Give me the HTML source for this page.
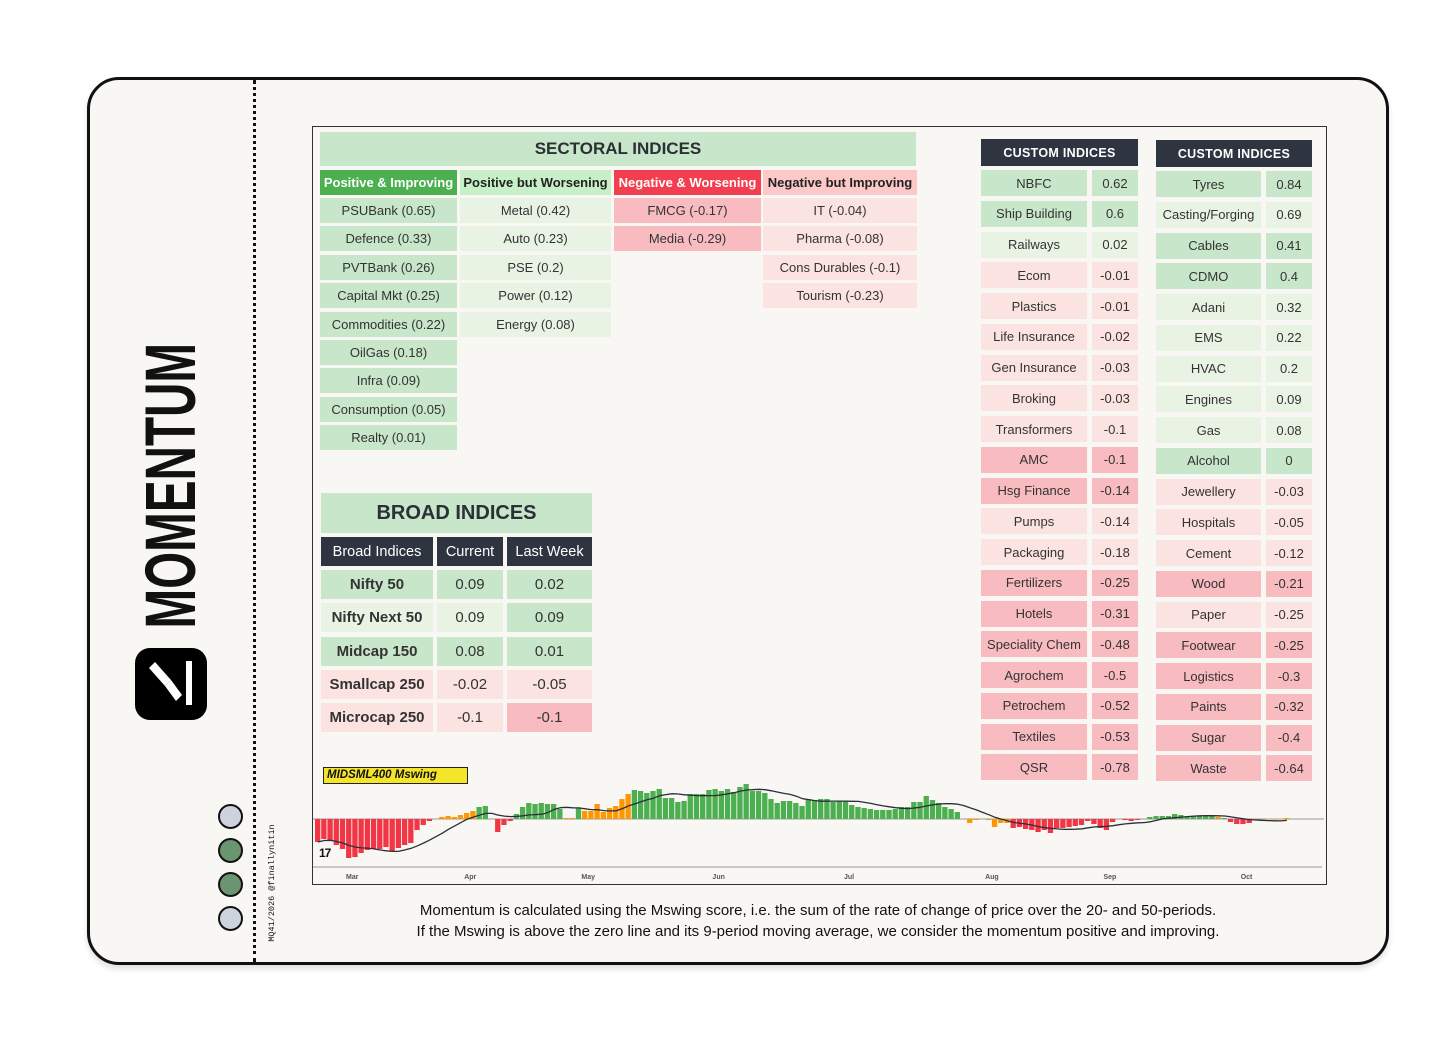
<!DOCTYPE html>
<html><head><meta charset="utf-8">
<style>
*{box-sizing:border-box;margin:0;padding:0}
body{width:1456px;height:1040px;background:#fff;position:relative;overflow:hidden;font-family:"Liberation Sans",sans-serif;color:#2b2f36}
.abs{position:absolute}
.cell{position:absolute;display:flex;align-items:center;justify-content:center;font-size:13px;color:#333;white-space:nowrap}
.S{background:#c8e6c9}.L{background:#e8f3e4}.PS{background:#f8bcc0}.PL{background:#fbe3e1}
.dark{background:#2e3440;color:#fff}
</style></head>
<body>
<div class="abs" style="left:87px;top:77px;width:1302px;height:888px;border:3px solid #111;border-radius:32px;background:#f9f7f3;box-shadow:0 4px 6px rgba(0,0,0,.12)"></div>
<div class="abs" style="left:253px;top:80px;height:882px;border-left:3px dotted #111"></div>

<div class="abs" style="left:-24px;top:466px;width:390px;height:52px;line-height:52px;text-align:center;font-weight:bold;font-size:68px;color:#111;transform:rotate(-90deg) scale(0.7,1.05)">MOMENTUM</div>

<svg class="abs" style="left:135px;top:648px" width="72" height="72" viewBox="0 0 72 72">
<rect width="72" height="72" rx="15" fill="#000"/>
<polygon points="14,20 20,14 36,32 30,38" fill="#fff"/>
<polygon points="30,38 36,32 47,47 41,53" fill="#fff"/>
<rect x="51" y="13" width="6" height="44" fill="#fff"/>
</svg>

<div id="dots"></div>
<div class="abs" style="left:213px;top:877px;width:120px;height:12px;font-family:'Liberation Mono',monospace;font-size:8.5px;color:#111;transform:rotate(-90deg);white-space:nowrap;text-align:center">MQ41/2026 @finallynitin</div>

<div class="abs" style="left:312px;top:126px;width:1015px;height:759px;border:1.5px solid #333;background:#f9f7f3"></div>

<div class="cell" style="left:320px;top:132px;width:596px;height:34px;background:#c8e6c9;font-size:17px;font-weight:bold;color:#2b2f36">SECTORAL INDICES</div>
<div id="sect"></div>

<div class="cell" style="left:321px;top:493px;width:271px;height:40px;background:#c8e6c9;font-size:20px;font-weight:bold;color:#2b2f36">BROAD INDICES</div>
<div id="broad"></div>
<div id="custom"></div>

<svg id="chart" class="abs" style="left:0;top:0" width="1456" height="1040"></svg>
<div class="abs" style="left:323px;top:767px;width:145px;height:17px;background:#f5e52a;border:1px solid #222;font-size:11.5px;font-weight:bold;font-style:italic;line-height:15px;padding-left:3px;color:#111">MIDSML400 Mswing</div>
<div class="abs" style="left:319px;top:846px;font-size:12px;font-weight:bold;color:#111;letter-spacing:-1px">17</div>

<div class="abs" style="left:312px;top:900px;width:1012px;text-align:center;font-size:15px;line-height:21px;color:#111">Momentum is calculated using the Mswing score, i.e. the sum of the rate of change of price over the 20- and 50-periods.<br>If the Mswing is above the zero line and its 9-period moving average, we consider the momentum positive and improving.</div>

<script>
const dotColors=['#cdd3dc','#6b9470','#6b9470','#cdd3dc'];
const dots=document.getElementById('dots');
dotColors.forEach((c,i)=>{const d=document.createElement('div');d.className='abs';


d.style.cssText=`left:218px;top:${804+i*34}px;width:25px;height:25px;border-radius:50%;border:2px solid #111;background:${c}`;dots.appendChild(d);});

function mk(parent,cls,x,y,w,h,txt,name,extra){const d=document.createElement('div');d.className='cell '+cls;


d.style.cssText=`left:${x}px;top:${y}px;width:${w}px;height:${h}px;`+(extra||'');d.textContent=txt;parent.appendChild(d);return d;}

const sect=document.getElementById('sect');
const sectHeads=[['Positive & Improving','background:#4caf50;color:#fff'],['Positive but Worsening','background:#c8f0c8;color:#222'],['Negative & Worsening','background:#f23f50;color:#fff'],['Negative but Improving','background:#fcc8c8;color:#222']];
const sectX=[[320,137],[460,151],[614,147],[763,154]];
const sectCols=[
 ['PSUBank (0.65)','Defence (0.33)','PVTBank (0.26)','Capital Mkt (0.25)','Commodities (0.22)','OilGas (0.18)','Infra (0.09)','Consumption (0.05)','Realty (0.01)'],
 ['Metal (0.42)','Auto (0.23)','PSE (0.2)','Power (0.12)','Energy (0.08)'],
 ['FMCG (-0.17)','Media (-0.29)'],
 ['IT (-0.04)','Pharma (-0.08)','Cons Durables (-0.1)','Tourism (-0.23)']];
const sectCls=['S','L','PS','PL'];
sectHeads.forEach((h,i)=>{mk(sect,'',sectX[i][0],170,sectX[i][1],25,h[0],'sector-group-header','font-weight:bold;'+h[1]);
 sectCols[i].forEach((t,j)=>mk(sect,sectCls[i],sectX[i][0],198+j*28.4,sectX[i][1],25,t,'sector-cell'));});

const broad=document.getElementById('broad');
const bx=[[321,112],[437,66],[507,85]];
['Broad Indices','Current','Last Week'].forEach((t,i)=>mk(broad,'dark',bx[i][0],537,bx[i][1],29,t,'broad-header','font-size:14.5px;color:#fff'));
const broadRows=[['Nifty 50','0.09','0.02'],['Nifty Next 50','0.09','0.09'],['Midcap 150','0.08','0.01'],['Smallcap 250','-0.02','-0.05'],['Microcap 250','-0.1','-0.1']];
const broadCls=[['S','S','S'],['L','L','S'],['S','S','S'],['PL','PL','PL'],['PL','PL','PS']];
broadRows.forEach((r,j)=>r.forEach((t,i)=>mk(broad,broadCls[j][i],bx[i][0],570+j*33.3,bx[i][1],29,t,i?'broad-value':'broad-name','font-size:15px;'+(i?'':'font-weight:bold'))));

const custom=document.getElementById('custom');
const c1=[['NBFC','0.62','S'],['Ship Building','0.6','S'],['Railways','0.02','L'],['Ecom','-0.01','PL'],['Plastics','-0.01','PL'],['Life Insurance','-0.02','PL'],['Gen Insurance','-0.03','PL'],['Broking','-0.03','PL'],['Transformers','-0.1','PL'],['AMC','-0.1','PS'],['Hsg Finance','-0.14','PS'],['Pumps','-0.14','PL'],['Packaging','-0.18','PL'],['Fertilizers','-0.25','PS'],['Hotels','-0.31','PS'],['Speciality Chem','-0.48','PS'],['Agrochem','-0.5','PS'],['Petrochem','-0.52','PS'],['Textiles','-0.53','PS'],['QSR','-0.78','PS']];
const c2=[['Tyres','0.84','S'],['Casting/Forging','0.69','L'],['Cables','0.41','S'],['CDMO','0.4','S'],['Adani','0.32','L'],['EMS','0.22','L'],['HVAC','0.2','L'],['Engines','0.09','L'],['Gas','0.08','L'],['Alcohol','0','S'],['Jewellery','-0.03','PL'],['Hospitals','-0.05','PL'],['Cement','-0.12','PL'],['Wood','-0.21','PS'],['Paper','-0.25','PL'],['Footwear','-0.25','PS'],['Logistics','-0.3','PS'],['Paints','-0.32','PS'],['Sugar','-0.4','PS'],['Waste','-0.64','PS']];
[[c1,981,139,170,106,1092],[c2,1156,140,171,105,1266]].forEach(([rows,x,hy,ry,nw,vx])=>{
 mk(custom,'dark',x,hy,vx+46-x,27,'CUSTOM INDICES','custom-header','font-weight:bold;font-size:12.5px;color:#fff;letter-spacing:.3px');
 rows.forEach((r,j)=>{mk(custom,r[2],x,ry+j*30.75,nw,26,r[0],'custom-name');mk(custom,r[2],vx,ry+j*30.75,46,26,r[1],'custom-value');});});
</script>

<script>
const mswing=[-0.23,-0.20,-0.21,-0.26,-0.30,-0.39,-0.38,-0.34,-0.31,-0.30,-0.30,-0.28,-0.32,-0.29,-0.26,-0.24,-0.11,-0.06,-0.02,
0,0.02,0.03,0.02,0.04,0.06,0.08,0.12,0.13,0,-0.13,-0.06,-0.02,0.05,0.12,0.16,0.15,0.16,0.15,0.15,0.10,0.01,0.01,0.11,0.08,0.08,0.15,0.07,0.11,0.13,0.20,0.25,0.29,0.28,0.26,0.28,0.30,0.21,0.21,0.17,0.18,0.25,0.25,0.25,0.29,0.30,0.28,0.30,0.27,0.32,0.35,0.28,0.28,0.26,0.20,0.16,0.18,0.18,0.16,0.13,0.20,
0.19,0.20,0.20,0.17,0.18,0.18,0.14,0.12,0.11,0.10,0.09,0.09,0.09,0.10,0.12,0.12,0.17,0.17,0.23,0.19,0.16,0.12,0.10,0.07,0,-0.04,-0.01,0,-0.01,-0.08,-0.04,-0.04,-0.09,-0.08,-0.10,-0.11,-0.13,-0.11,-0.14,-0.09,-0.09,-0.08,-0.07,-0.06,-0.02,-0.05,-0.09,-0.11,-0.03,0,-0.01,-0.02,-0.01,0,0.02,0.03,0.03,0.03,0.05,0.04,0.03,0.03,0.03,0.03,0.03,0.02,0.01,-0.03,-0.05,-0.05,-0.04,-0.01,0,0.005,0,0.005,0.01];
const barState=('r'.repeat(19)+'ooooooogg'+'o'+'rrr'+'gggggggg'+'oo'+'g'+'oooooooo'+'g'.repeat(29)
 +'g'.repeat(24)+'o'.repeat(8)+'r'.repeat(17)+'o'+'rrr'+'o'+'g'.repeat(11)+'o'+'g'+'rrrr'+'oooooo').split('');
const monthLabels=['Mar','Apr','May','Jun','Jul','Aug','Sep','Oct'];
const monthIndex=[6,25,44,65,86,109,128,150];
const maPeriod=9;

const svgNS='http://www.w3.org/2000/svg';
const chart=document.getElementById('chart');
const x0=315,x1=1290,zeroY=819,pxPerUnit=100;
const step=(x1-x0)/mswing.length;
const xScale=i=>x0+i*step;
const yScale=v=>zeroY-v*pxPerUnit;
const stateColor={r:'#f23645',o:'#ff9800',g:'#4caf50'};
function el(tag,attrs){const e=document.createElementNS(svgNS,tag);for(const k in attrs)e.setAttribute(k,attrs[k]);chart.appendChild(e);return e;}

const zl=el('line',{x1:313,x2:1324,y1:zeroY,y2:zeroY,stroke:'#9a9a9a','stroke-width':1});


const ax=el('line',{x1:313,x2:1322,y1:867,y2:867,stroke:'#999','stroke-width':1});



mswing.forEach((v,i)=>{
 const y=Math.min(yScale(v),zeroY),h=Math.abs(yScale(v)-zeroY);
 const r=el('rect',{x:xScale(i),y:y,width:step-0.9,height:h,fill:stateColor[barState[i]]||'#4caf50'});
 
 
});
const ma=mswing.map((v,i)=>{const s=mswing.slice(Math.max(0,i-maPeriod+1),i+1);return s.reduce((a,b)=>a+b,0)/s.length;});
const pts=ma.map((v,i)=>`${(xScale(i)+step/2).toFixed(1)},${yScale(v).toFixed(1)}`).join(' ');
const line=el('polyline',{points:pts,fill:'none',stroke:'#2b2f3a','stroke-width':1.3,'stroke-linejoin':'round'});



monthLabels.forEach((m,k)=>{
 const t=el('text',{x:xScale(monthIndex[k]),y:879,'font-size':7,'font-weight':'bold',fill:'#555','text-anchor':'middle','font-family':'Liberation Sans, sans-serif'});
 t.textContent=m;
 
 
});
</script>
</body></html>
